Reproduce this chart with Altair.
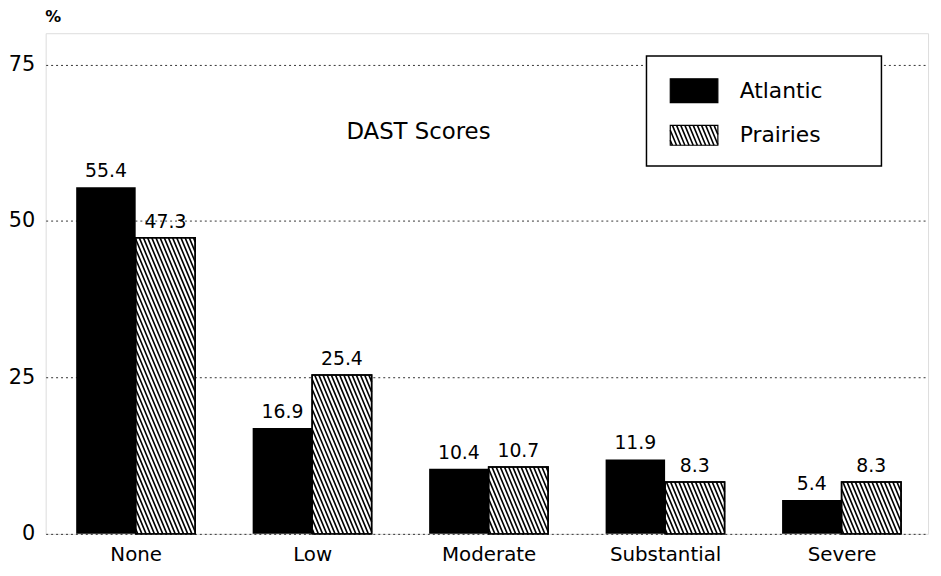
import json
import altair as alt
import pandas as pd

# ---------------- data ----------------
categories = ["None", "Low", "Moderate", "Substantial", "Severe"]
regions = ["Atlantic", "Prairies"]
atlantic = [55.4, 16.9, 10.4, 11.9, 5.4]
prairies = [47.3, 25.4, 10.7, 8.3, 8.3]
y_ticks = [0, 25, 50, 75]
title_text = "DAST Scores"
y_unit = "%"

# ---------------- geometry / style ----------------
W, H = 890, 505
XDOM = [-0.51, 4.49]
YDOM = [0, 80]
PX_X = W / (XDOM[1] - XDOM[0])
PX_Y = H / (YDOM[1] - YDOM[0])
BAR_PX = 60
BW = BAR_PX / PX_X
SLOPE = 2.4
GAP = 4.2
FONT = "DejaVu Sans"


def hatch_segments(wpx, hpx):
    """diagonal (top-left -> bottom-right) hatch lines inside a wpx x hpx box,
    returned as (u0, w0, u1, w1) pixel offsets from the box's top-left corner"""
    segs = []
    c = -hpx / SLOPE + GAP / 2
    while c < wpx:
        w0 = max(0.0, -c * SLOPE)
        w1 = min(hpx, (wpx - c) * SLOPE)
        if w1 > w0:
            segs.append((c + w0 / SLOPE, w0, c + w1 / SLOPE, w1))
        c += GAP
    return segs


# bars table
bar_rows = []
for i, cat in enumerate(categories):
    bar_rows.append(dict(cat=cat, region=regions[0], x=i - BW, x2=i, y=0, y2=atlantic[i],
                         xc=i - BW / 2, value=atlantic[i], label=f"{atlantic[i]:.1f}"))
    bar_rows.append(dict(cat=cat, region=regions[1], x=i, x2=i + BW, y=0, y2=prairies[i],
                         xc=i + BW / 2, value=prairies[i], label=f"{prairies[i]:.1f}"))
bars = pd.DataFrame(bar_rows)

# hatch lines for Prairies bars (derived from the values)
hatch_rows = []
for i, v in enumerate(prairies):
    for u0, w0, u1, w1 in hatch_segments(BAR_PX, v * PX_Y):
        hatch_rows.append(dict(x=i + u0 / PX_X, y=v - w0 / PX_Y,
                               x2=i + u1 / PX_X, y2=v - w1 / PX_Y))
hatch = pd.DataFrame(hatch_rows)

xaxis = alt.Axis(values=list(range(len(categories))),
                 labelExpr=json.dumps(categories) + "[datum.value]",
                 ticks=False, domain=False, grid=False, title=None,
                 labelFontSize=20, labelFont=FONT, labelColor="black",
                 labelPadding=11)
yaxis = alt.Axis(values=y_ticks, grid=True, gridDash=[2, 3], gridColor="#333",
                 gridWidth=1, domain=False, ticks=False,
                 labelFontSize=21, labelFont=FONT, labelColor="black", labelPadding=11,
                 title=y_unit, titleAngle=0, titleX=7, titleY=-17, titleFontSize=16,
                 titleFont=FONT, titleFontWeight="bold", titleAlign="center",
                 titleBaseline="middle", titleColor="black")
xs = alt.Scale(domain=XDOM, nice=False, zero=False)
ys = alt.Scale(domain=YDOM, nice=False)


def X(f):
    return alt.X(f + ":Q", scale=xs, axis=xaxis)


def Y(f):
    return alt.Y(f + ":Q", scale=ys, axis=yaxis)


base = alt.Chart(bars)

atl_bars = base.transform_filter(alt.datum.region == regions[0]).mark_rect(
    color="black").encode(x=X("x"), x2="x2", y=Y("y"), y2="y2")
pra_bars = base.transform_filter(alt.datum.region == regions[1]).mark_rect(
    fill="white", stroke="black", strokeWidth=1.5).encode(x=X("x"), x2="x2", y=Y("y"), y2="y2")
hatch_lines = alt.Chart(hatch).mark_rule(color="black", strokeWidth=1.6).encode(
    x=X("x"), x2="x2", y=Y("y"), y2="y2")
pra_outline = base.transform_filter(alt.datum.region == regions[1]).mark_rect(
    fillOpacity=0, stroke="black", strokeWidth=1.5).encode(x=X("x"), x2="x2", y=Y("y"), y2="y2")
value_labels = base.mark_text(fontSize=19, font=FONT, baseline="alphabetic", dy=-10,
                              color="black").encode(x=X("xc"), y=Y("value"), text="label:N")

# ---------------- legend (pixel coordinates) ----------------
BOX = (606, 23, 843, 134)
SW_X0, SW_X1 = 630, 678
SW_ATL = (46, 70)
SW_PRA = (93, 113)
legend_box_df = pd.DataFrame([dict(x=BOX[0], x2=BOX[2], y=BOX[1], y2=BOX[3])])
swatch_df = pd.DataFrame([
    dict(region=regions[0], x=SW_X0, x2=SW_X1, y=SW_ATL[0], y2=SW_ATL[1], fill="black"),
    dict(region=regions[1], x=SW_X0, x2=SW_X1, y=SW_PRA[0], y2=SW_PRA[1], fill="white"),
])
leg_hatch_df = pd.DataFrame([
    dict(x=SW_X0 + u0, y=SW_PRA[0] + w0, x2=SW_X0 + u1, y2=SW_PRA[0] + w1)
    for u0, w0, u1, w1 in hatch_segments(SW_X1 - SW_X0, SW_PRA[1] - SW_PRA[0])
])
leg_text_df = pd.DataFrame([
    dict(label=regions[0], x=700, y=(SW_ATL[0] + SW_ATL[1]) / 2),
    dict(label=regions[1], x=700, y=(SW_PRA[0] + SW_PRA[1]) / 2),
])


def PX(f):
    return alt.X(f + ":Q", scale=None, axis=None)


def PY(f):
    return alt.Y(f + ":Q", scale=None, axis=None)


legend_box = alt.Chart(legend_box_df).mark_rect(
    fill="white", stroke="black", strokeWidth=1.5).encode(x=PX("x"), x2="x2", y=PY("y"), y2="y2")
swatches = alt.Chart(swatch_df).mark_rect(stroke="black", strokeWidth=1.2).encode(
    x=PX("x"), x2="x2", y=PY("y"), y2="y2", fill=alt.Fill("fill:N", scale=None))
leg_hatch = alt.Chart(leg_hatch_df).mark_rule(color="black", strokeWidth=1.6).encode(
    x=PX("x"), x2="x2", y=PY("y"), y2="y2")
leg_text = alt.Chart(leg_text_df).mark_text(
    fontSize=22, font=FONT, align="left", baseline="middle", color="black").encode(
    x=PX("x"), y=PY("y"), text="label:N")

title_mark = alt.Chart(pd.DataFrame([dict(t=title_text)])).mark_text(
    fontSize=23, font=FONT, align="center", baseline="middle", color="black").encode(
    x=alt.value(376), y=alt.value(100), text="t:N")

chart = alt.layer(
    atl_bars, pra_bars, hatch_lines, pra_outline, value_labels,
    legend_box, swatches, leg_hatch, leg_text, title_mark,
).properties(
    width=W, height=H,
    autosize=alt.AutoSizeParams(type="none"),
    padding={"left": 38, "top": 23, "right": 5, "bottom": 32},
).configure_view(stroke="black", strokeWidth=2).configure(background="white")

chart.save("out.html", embed_options={"renderer": "svg", "actions": False})
